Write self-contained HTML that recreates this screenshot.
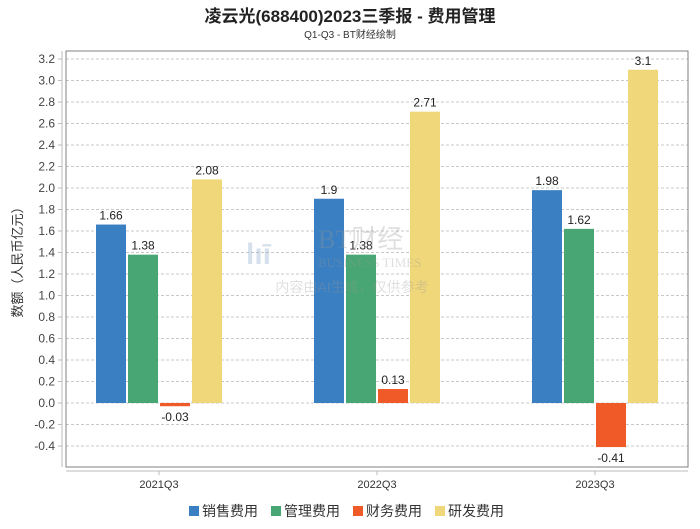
<!DOCTYPE html>
<html><head><meta charset="utf-8"><style>
body{margin:0;background:#fff;font-family:"Liberation Sans","Noto Sans CJK SC",sans-serif}
</style></head><body>
<svg width="700" height="524" xmlns="http://www.w3.org/2000/svg" style="font-family:'Liberation Sans','Noto Sans CJK SC',sans-serif">
<text x="350" y="22" text-anchor="middle" font-size="17" font-weight="bold" fill="#222">凌云光(688400)2023三季报 - 费用管理</text>
<text x="350" y="38" text-anchor="middle" font-size="10" fill="#333">Q1-Q3 - BT财经绘制</text>
<g id="grid"></g>
<rect x="66" y="51" width="622" height="416" fill="none" stroke="#808080" stroke-width="1"/>
<line x1="62" y1="51" x2="62" y2="467" stroke="#bbb"/>
<line x1="66" y1="471" x2="688" y2="471" stroke="#bbb"/>
<g id="bars"></g>
<g opacity="0.3">
<text x="246" y="264" font-size="30" font-weight="bold" fill="#7d9fc4">lıī</text>
<text x="318" y="248" font-size="26" font-family="Liberation Serif,serif" fill="#999">BT财经</text>
<text x="318" y="267" font-size="13" font-family="Liberation Serif,serif" fill="#999">BUSINESS TIMES</text>
<text x="352" y="292" text-anchor="middle" font-size="14" fill="#999">内容由AI生成，仅供参考</text>
</g>
<g id="xaxis"></g>
<text transform="translate(22,259) rotate(-90)" text-anchor="middle" font-size="13" fill="#333">数额（人民币亿元）</text>
<g id="legend"></g>
</svg>
<script>
const categories=["2021Q3","2022Q3","2023Q3"];
const seriesNames=["销售费用","管理费用","财务费用","研发费用"];
const colors=["#3a7fc1","#47a673","#f05a28","#efd77a"];
const sales=[1.66,1.9,1.98];
const admin=[1.38,1.38,1.62];
const finance=[-0.03,0.13,-0.41];
const rnd=[2.08,2.71,3.1];
const yTicks=[3.2,3.0,2.8,2.6,2.4,2.2,2.0,1.8,1.6,1.4,1.2,1.0,0.8,0.6,0.4,0.2,0.0,-0.2,-0.4];
const series=[sales,admin,finance,rnd];
const NS="http://www.w3.org/2000/svg";
function y(v){return 403-v*107.5;}
function xc(i){return 159+218*i;}
function mk(t,a,p){const e=document.createElementNS(NS,t);for(const k in a)e.setAttribute(k,a[k]);p.appendChild(e);return e;}
const grid=document.getElementById('grid');
yTicks.forEach(t=>{
 const l=mk('line',{x1:66,x2:688,y1:y(t),y2:y(t),stroke:'#c8c8c8','stroke-dasharray':'3,2'},grid);
 
 
 mk('line',{x1:58,x2:62,y1:y(t),y2:y(t),stroke:'#bbb'},grid);
 const tx=mk('text',{x:55,y:y(t)+4,'text-anchor':'end','font-size':12,fill:'#444'},grid);
 tx.textContent=t.toFixed(1);
 
 
});
const bars=document.getElementById('bars');
const bw=30,gap=2;
categories.forEach((c,i)=>{
 series.forEach((s,j)=>{
  const v=s[i];
  const x=xc(i)-2*bw-1.5*gap+j*(bw+gap);
  const r=mk('rect',{x:x,y:Math.min(y(v),y(0)),width:bw,height:Math.abs(y(v)-y(0)),fill:colors[j]},bars);
  
  
  const ty=v>=0?y(v)-5:y(v)+15;
  const t=mk('text',{x:x+bw/2,y:ty,'text-anchor':'middle','font-size':12,fill:'#222'},bars);
  t.textContent=String(v);
  
  
 });
});
const xa=document.getElementById('xaxis');
categories.forEach((c,i)=>{
 mk('line',{x1:xc(i),x2:xc(i),y1:471,y2:475,stroke:'#bbb'},xa);
 const t=mk('text',{x:xc(i),y:488,'text-anchor':'middle','font-size':11,fill:'#333'},xa);
 t.textContent=c;
 
 
});
const lg=document.getElementById('legend');
let lx=189;
seriesNames.forEach((n,j)=>{
 const g=mk('g',{},lg);
 
 
 mk('rect',{x:lx,y:506,width:10,height:10,fill:colors[j]},g);
 const t=mk('text',{x:lx+13,y:516,'font-size':14,fill:'#333'},g);
 t.textContent=n;
 lx+=82;
});
</script>
</body></html>
